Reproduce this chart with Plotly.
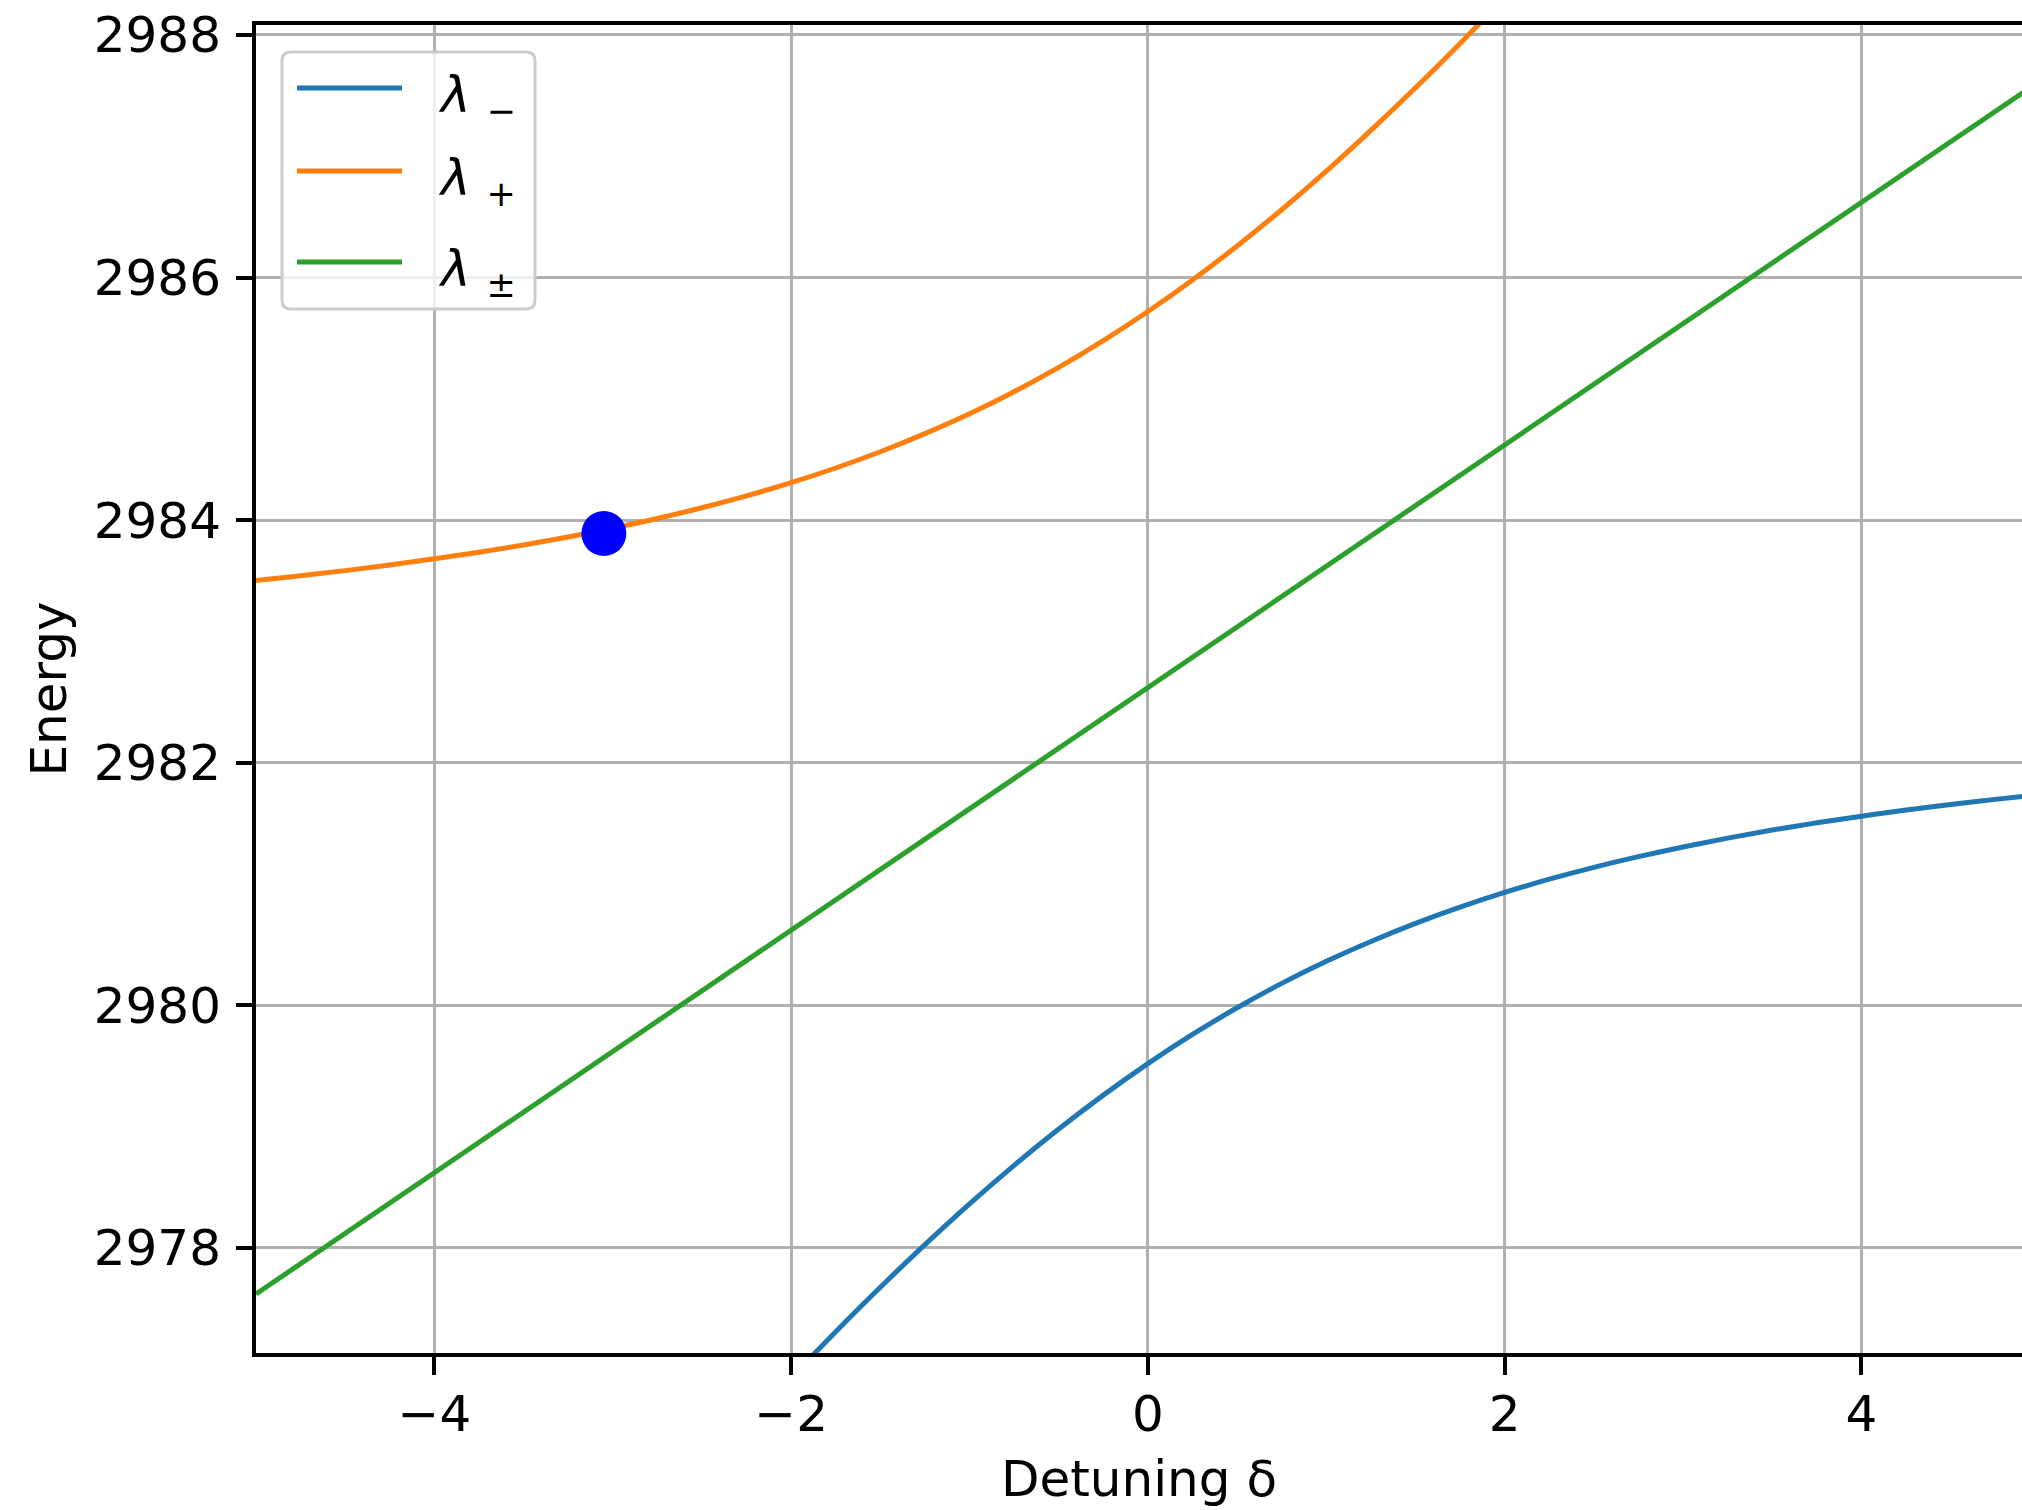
import plotly.graph_objects as go

# ---- data ----
x_plus = [-5.0, -4.75, -4.5, -4.25, -4.0, -3.75, -3.5, -3.25, -3.0, -2.75, -2.5, -2.25,
          -2.0, -1.75, -1.5, -1.25, -1.0, -0.75, -0.5, -0.25, 0.0, 0.25, 0.5, 0.75,
          1.0, 1.25, 1.5, 1.75, 2.0]
lam_plus = [2983.503, 2983.542, 2983.584, 2983.630, 2983.681, 2983.735, 2983.795, 2983.861,
            2983.934, 2984.014, 2984.102, 2984.200, 2984.309, 2984.430, 2984.564, 2984.713,
            2984.877, 2985.059, 2985.260, 2985.480, 2985.720, 2985.980, 2986.260, 2986.559,
            2986.877, 2987.213, 2987.564, 2987.930, 2988.309]

x_minus = [-2.0, -1.75, -1.5, -1.25, -1.0, -0.75, -0.5, -0.25, 0.0, 0.25, 0.5, 0.75,
           1.0, 1.25, 1.5, 1.75, 2.0, 2.25, 2.5, 2.75, 3.0, 3.25, 3.5, 3.75,
           4.0, 4.25, 4.5, 4.75, 5.0]
lam_minus = [2976.931, 2977.310, 2977.676, 2978.027, 2978.363, 2978.681, 2978.980, 2979.260,
             2979.520, 2979.760, 2979.980, 2980.181, 2980.363, 2980.527, 2980.676, 2980.810,
             2980.931, 2981.040, 2981.138, 2981.226, 2981.306, 2981.379, 2981.445, 2981.505,
             2981.559, 2981.610, 2981.656, 2981.698, 2981.737]

x_pm = [-5, -4, -3, -2, -1, 0, 1, 2, 3, 4, 5]
lam_pm = [2977.62, 2978.62, 2979.62, 2980.62, 2981.62, 2982.62, 2983.62, 2984.62,
          2985.62, 2986.62, 2987.62]

point_x = [-3.05]
point_y = [2983.89]

x_ticks = [-4, -2, 0, 2, 4]
x_tick_text = ["\u22124", "\u22122", "0", "2", "4"]
y_ticks = [2978, 2980, 2982, 2984, 2986, 2988]
y_tick_text = ["2978", "2980", "2982", "2984", "2986", "2988"]

series_names = ["<i>λ</i> <sub>−</sub>", "<i>λ</i> <sub>+</sub>", "<i>λ</i> <sub>±</sub>"]
series_colors = ["#1f77b4", "#ff7f0e", "#2ca02c"]

FONT = "DejaVu Sans"
FS = 50

fig = go.Figure()
fig.add_trace(go.Scatter(x=x_minus, y=lam_minus, mode="lines", name="λ−",
                         line=dict(color=series_colors[0], width=5, shape="spline"),
                         showlegend=False))
fig.add_trace(go.Scatter(x=x_plus, y=lam_plus, mode="lines", name="λ+",
                         line=dict(color=series_colors[1], width=5, shape="spline"),
                         showlegend=False))
fig.add_trace(go.Scatter(x=x_pm, y=lam_pm, mode="lines", name="λ±",
                         line=dict(color=series_colors[2], width=5),
                         showlegend=False))
fig.add_trace(go.Scatter(x=point_x, y=point_y, mode="markers", name="point",
                         marker=dict(color="#0000ff", size=45, line=dict(width=0)),
                         showlegend=False))

# ---- manual matplotlib-style legend (paper coordinates) ----
L, R, T, B = 256, 2022, 25, 1353
W, H = R - L, B - T
def px(x):
    return (x - L) / W
def py(y):
    return (B - y) / H

bx0, bx1, by0, by1 = px(282), px(535), py(309), py(52)
rx, ry = 9 / W, 9 / H
path = (f"M {bx0+rx},{by1} L {bx1-rx},{by1} Q {bx1},{by1} {bx1},{by1-ry} "
        f"L {bx1},{by0+ry} Q {bx1},{by0} {bx1-rx},{by0} L {bx0+rx},{by0} "
        f"Q {bx0},{by0} {bx0},{by0+ry} L {bx0},{by1-ry} Q {bx0},{by1} {bx0+rx},{by1} Z")
shapes = [dict(type="path", xref="paper", yref="paper", path=path,
               fillcolor="rgba(255,255,255,0.8)", line=dict(color="#cccccc", width=3),
               layer="above")]
annotations = []
row_y = [88, 171, 262]
for name, color, ry_ in zip(series_names, series_colors, row_y):
    shapes.append(dict(type="line", xref="paper", yref="paper",
                       x0=px(297), x1=px(402), y0=py(ry_), y1=py(ry_),
                       line=dict(color=color, width=5), layer="above"))
    annotations.append(dict(xref="paper", yref="paper", x=px(436), y=py(ry_ + 10),
                            text=name, showarrow=False, xanchor="left", yanchor="middle",
                            font=dict(family=FONT, size=FS, color="black")))

fig.update_layout(
    width=2022, height=1510,
    margin=dict(l=L, r=2022 - R, t=T, b=1510 - B, pad=0),
    paper_bgcolor="white", plot_bgcolor="white",
    font=dict(family=FONT, size=FS, color="black"),
    shapes=shapes, annotations=annotations,
    showlegend=False,
)
fig.update_xaxes(
    range=[-5.0, 4.9], tickvals=x_ticks, ticktext=x_tick_text,
    showgrid=True, gridcolor="#b0b0b0", gridwidth=3, zeroline=False,
    showline=True, linecolor="black", linewidth=4, mirror=True,
    ticks="outside", ticklen=18, tickwidth=4, tickcolor="black",
    ticklabelstandoff=-4,
    tickfont=dict(family=FONT, size=FS, color="black"),
    title=dict(text="Detuning δ", font=dict(family=FONT, size=FS, color="black"), standoff=20),
)
fig.update_yaxes(
    range=[2977.134, 2988.082], tickvals=y_ticks, ticktext=y_tick_text,
    showgrid=True, gridcolor="#b0b0b0", gridwidth=3, zeroline=False,
    showline=True, linecolor="black", linewidth=4, mirror=False,
    ticks="outside", ticklen=16, tickwidth=4, tickcolor="black",
    ticklabelstandoff=5,
    tickfont=dict(family=FONT, size=FS, color="black"),
    title=dict(text="Energy", font=dict(family=FONT, size=FS, color="black"), standoff=12),
)

fig.write_html("out.html")
